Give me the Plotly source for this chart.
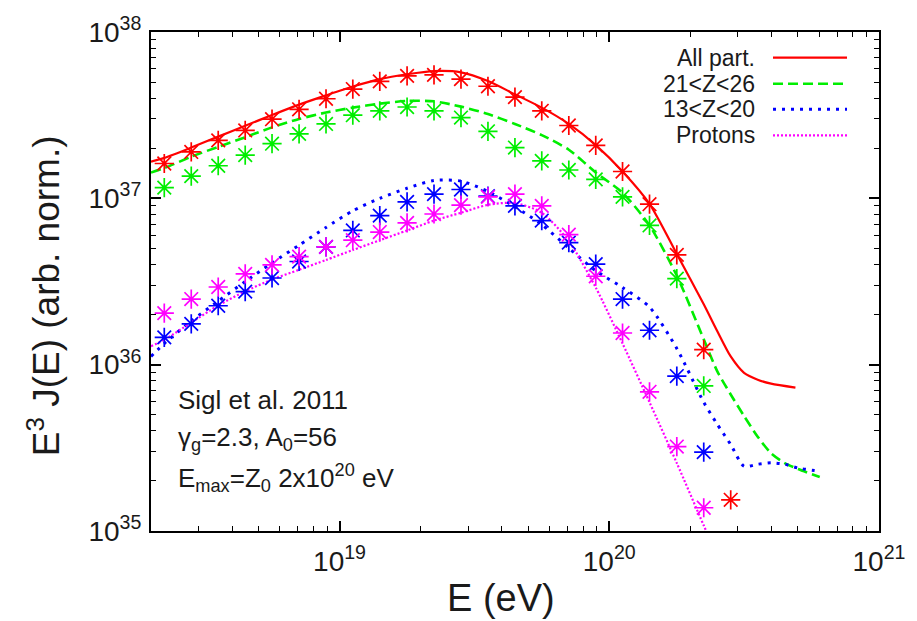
import plotly.graph_objects as go

# ---- energies of the simulated points (eV) ----
E_pts = [2.24e18, 2.82e18, 3.55e18, 4.47e18, 5.62e18, 7.08e18, 8.91e18,
         1.12e19, 1.41e19, 1.78e19, 2.24e19, 2.82e19, 3.55e19, 4.47e19,
         5.62e19, 7.08e19, 8.91e19, 1.12e20, 1.41e20, 1.78e20, 2.24e20,
         2.82e20]

# ---- E^3 J(E) at those energies, per group ----
all_pts = [1.62e37, 1.90e37, 2.23e37, 2.56e37, 2.99e37, 3.43e37, 3.97e37,
           4.54e37, 5.05e37, 5.45e37, 5.52e37, 5.21e37, 4.72e37, 4.06e37,
           3.36e37, 2.74e37, 2.08e37, 1.45e37, 9.22e36, 4.57e36, 1.23e36,
           1.54e35]
heavy_pts = [1.16e37, 1.36e37, 1.57e37, 1.82e37, 2.13e37, 2.44e37, 2.80e37,
             3.16e37, 3.36e37, 3.54e37, 3.36e37, 3.06e37, 2.53e37, 2.02e37,
             1.68e37, 1.48e37, 1.30e37, 1.02e37, 6.87e36, 3.29e36, 7.45e35]
mid_pts = [1.46e36, 1.76e36, 2.26e36, 2.75e36, 3.32e36, 4.17e36, 5.11e36,
           6.41e36, 7.87e36, 9.51e36, 1.06e37, 1.13e37, 1.03e37, 9.01e36,
           7.35e36, 5.42e36, 4.02e36, 2.48e36, 1.61e36, 8.54e35, 2.98e35]
prot_pts = [2.04e36, 2.48e36, 2.93e36, 3.51e36, 3.98e36, 4.46e36, 5.11e36,
            5.60e36, 6.27e36, 7.12e36, 8.05e36, 9.10e36, 1.02e37, 1.06e37,
            9.01e36, 6.05e36, 3.40e36, 1.55e36, 6.87e35, 3.22e35, 1.38e35]

# ---- model curves ----
E_all = [2.00e18, 2.24e18, 2.82e18, 3.55e18, 4.47e18, 5.62e18, 7.08e18,
         8.91e18, 1.12e19, 1.41e19, 1.78e19, 2.24e19, 2.82e19,
         3.55e19, 4.47e19, 5.62e19, 7.08e19, 8.91e19, 1.12e20, 1.41e20,
         1.78e20, 2.24e20, 2.51e20, 2.82e20, 3.16e20, 3.55e20, 3.98e20,
         4.90e20]
all_line = [1.66e37, 1.75e37, 2.02e37, 2.35e37, 2.73e37, 3.17e37, 3.66e37,
            4.16e37, 4.70e37, 5.21e37, 5.57e37, 5.82e37, 5.72e37,
            5.07e37, 4.22e37, 3.51e37, 2.80e37, 2.09e37, 1.45e37, 9.26e36,
            4.63e36, 2.31e36, 1.60e36, 1.12e36, 8.93e35, 8.12e35, 7.69e35,
            7.28e35]

E_heavy = [2.00e18, 2.24e18, 2.82e18, 3.55e18, 4.47e18, 5.62e18, 7.08e18,
           8.91e18, 1.12e19, 1.41e19, 1.78e19, 2.24e19, 2.82e19, 3.55e19,
           4.47e19, 5.62e19, 7.08e19, 8.91e19, 1.12e20, 1.41e20, 1.78e20,
           2.24e20, 2.51e20, 2.82e20, 3.16e20, 3.55e20, 3.98e20, 4.47e20,
           5.01e20, 6.03e20]
heavy_line = [1.43e37, 1.52e37, 1.78e37, 2.04e37, 2.33e37, 2.67e37, 3.00e37,
              3.28e37, 3.51e37, 3.71e37, 3.85e37, 3.83e37, 3.56e37, 3.21e37,
              2.80e37, 2.40e37, 1.96e37, 1.43e37, 1.08e37, 6.87e36, 3.43e36,
              1.42e36, 9.18e35, 6.62e35, 4.91e35, 3.69e35, 2.93e35, 2.56e35,
              2.36e35, 2.11e35]

E_mid = [2.00e18, 2.24e18, 2.82e18, 3.55e18, 4.47e18, 5.62e18, 7.08e18,
         8.91e18, 1.12e19, 1.41e19, 1.78e19, 2.24e19, 2.82e19,
         3.55e19, 4.47e19, 5.62e19, 7.08e19, 8.91e19, 1.12e20, 1.41e20,
         1.78e20, 2.24e20, 2.51e20, 2.82e20, 3.16e20, 3.55e20, 3.98e20,
         4.47e20, 5.01e20, 6.03e20]
mid_line = [1.12e36, 1.34e36, 1.83e36, 2.41e36, 3.16e36, 4.09e36, 5.23e36,
            6.68e36, 8.41e36, 1.00e37, 1.15e37, 1.28e37, 1.27e37,
            1.10e37, 8.89e36, 6.96e36, 5.02e36, 3.67e36, 2.91e36, 2.22e36,
            1.25e36, 5.94e35, 4.40e35, 3.31e35, 2.45e35, 2.52e35, 2.57e35,
            2.52e35, 2.39e35, 2.29e35]

E_prot = [2.00e18, 2.24e18, 2.82e18, 3.55e18, 4.47e18, 5.62e18, 7.08e18,
          8.91e18, 1.12e19, 1.41e19, 1.78e19, 2.24e19, 2.82e19, 3.55e19,
          4.47e19, 5.62e19, 7.08e19, 8.91e19, 1.12e20, 1.41e20, 1.78e20,
          2.24e20, 2.51e20]
prot_line = [1.29e36, 1.41e36, 1.79e36, 2.27e36, 2.76e36, 3.25e36, 3.72e36,
             4.26e36, 4.89e36, 5.60e36, 6.41e36, 7.35e36, 8.19e36, 9.14e36,
             9.38e36, 8.19e36, 5.52e36, 2.91e36, 1.34e36, 5.94e35, 2.56e35,
             1.08e35, 7.11e34]

labels = ["All part.", "21<Z<26", "13<Z<20", "Protons"]
colors = ["#ff0000", "#00ee00", "#0000ff", "#ff00ff"]
dashes = ["solid", "10px,5px", "3px,6px", "2px,2px"]
widths = [2.2, 2.6, 3.0, 2.2]

x_tick_vals = [1e19, 1e20, 1e21]
x_tick_text = ["10<sup>19</sup>", "10<sup>20</sup>", "10<sup>21</sup>"]
y_tick_vals = [1e35, 1e36, 1e37, 1e38]
y_tick_text = ["10<sup>35</sup>", "10<sup>36</sup>", "10<sup>37</sup>", "10<sup>38</sup>"]

FONT = "Liberation Sans, Arial, Helvetica, sans-serif"
TXT = "#1a1a1a"

fig = go.Figure()

curves = [(E_all, all_line), (E_heavy, heavy_line), (E_mid, mid_line), (E_prot, prot_line)]
points = [(E_pts, all_pts), (E_pts[:21], heavy_pts), (E_pts[:21], mid_pts), (E_pts[:21], prot_pts)]

for (ex, ey), c, d, w in zip(curves, colors, dashes, widths):
    fig.add_trace(go.Scatter(x=ex, y=ey, mode="lines",
                             line=dict(color=c, width=w, dash=d, shape="spline", smoothing=0.7),
                             showlegend=False, hoverinfo="skip"))

for (px_, py_), c in zip(points, colors):
    fig.add_trace(go.Scatter(x=px_, y=py_, mode="markers",
                             marker=dict(symbol="asterisk-open", size=16, color=c,
                                         line=dict(color=c, width=1.7)),
                             showlegend=False))


# minor tick positions (2..9 within each decade)
def minor_vals(lo, hi):
    out = []
    for p in range(lo, hi):
        for m in range(2, 10):
            out.append(m * 10.0 ** p)
    return out


axis_common = dict(type="log", showline=True, linewidth=2, linecolor="black",
                   mirror="allticks", ticks="inside", ticklen=10, tickwidth=1.5,
                   tickcolor="black", showgrid=False, zeroline=False,
                   tickfont=dict(family=FONT, size=28, color=TXT))

fig.update_xaxes(**axis_common, range=[18.30103, 21.0],
                 tickvals=x_tick_vals, ticktext=x_tick_text, ticklabelstandoff=4,
                 minor=dict(tickvals=minor_vals(18, 21), ticks="inside", ticklen=5,
                            tickwidth=1.2, tickcolor="black", showgrid=False))
fig.update_yaxes(**axis_common, range=[35.0, 38.0],
                 tickvals=y_tick_vals, ticktext=y_tick_text, ticklabelstandoff=2,
                 minor=dict(tickvals=minor_vals(35, 38), ticks="inside", ticklen=5,
                            tickwidth=1.2, tickcolor="black", showgrid=False))

L, R, T, B = 151, 38, 23, 90
W, H = 917, 621
pw, ph = W - L - R, H - T - B


def px(x):
    return (x - L) / pw


def py(y):
    return 1 - (y - T) / ph


def note(text, x, y, size, xanchor="center", angle=0):
    return dict(text=text, x=px(x), y=py(y), xref="paper", yref="paper",
                xanchor=xanchor, yanchor="middle", textangle=angle, showarrow=False,
                font=dict(family=FONT, size=size, color=TXT))


annotations = [
    note("E (eV)", 501, 599, 38),
    note("E<sup>3</sup> J(E) (arb. norm.)", 44, 292, 37, angle=-90),
    note("Sigl et al. 2011", 176, 398, 26, xanchor="left"),
    note("γ<sub>g</sub>=2.3, A<sub>0</sub>=56", 176, 437, 26, xanchor="left"),
    note("E<sub>max</sub>=Z<sub>0</sub> 2x10<sup>20</sup> eV", 176, 477, 26, xanchor="left"),
]

shapes = []
legend_rows = [49, 75.7, 101.7, 128.3]
for lab, c, d, w, yy in zip(labels, colors, dashes, widths, legend_rows):
    annotations.append(note(lab, 757, yy, 23, xanchor="right"))
    shapes.append(dict(type="line", xref="paper", yref="paper",
                       x0=px(773), x1=px(847), y0=py(yy), y1=py(yy),
                       line=dict(color=c, width=w, dash=d)))

fig.update_layout(width=W, height=H, margin=dict(l=L, r=R, t=T, b=B),
                  paper_bgcolor="white", plot_bgcolor="white",
                  annotations=annotations, shapes=shapes, showlegend=False)

fig.write_html("out.html")
